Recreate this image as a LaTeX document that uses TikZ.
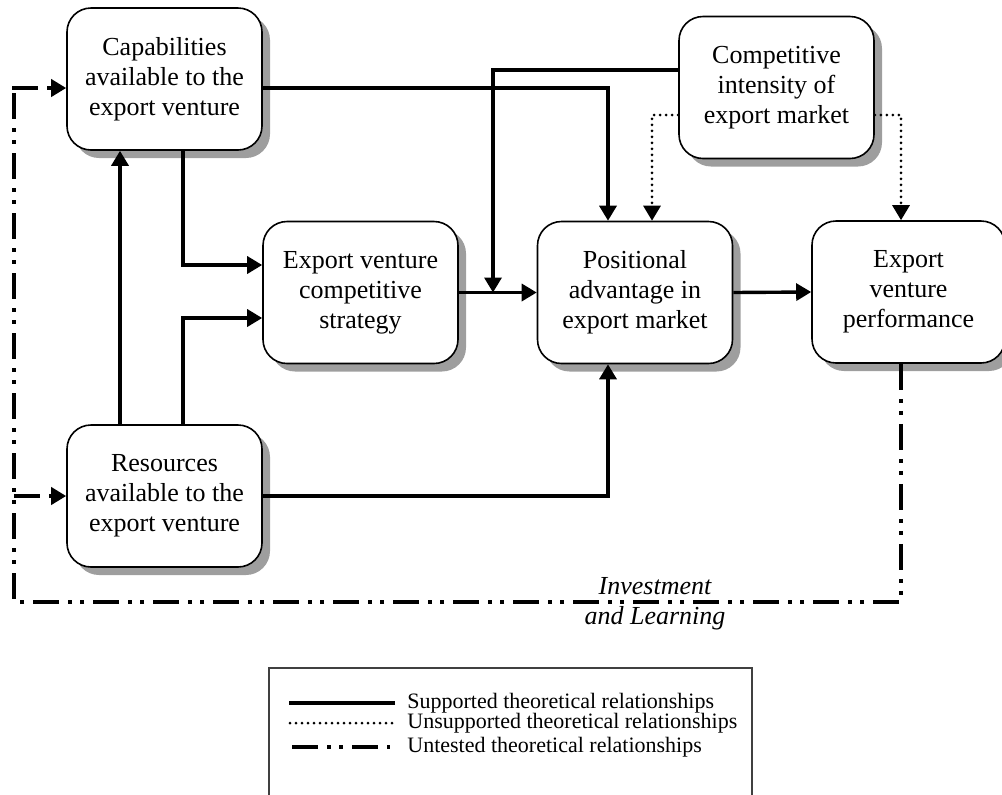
\documentclass[tikz,border=0pt]{standalone}
\usepackage{fontspec}
\setmainfont{Liberation Serif}
\usetikzlibrary{arrows.meta,shadows}
\tikzset{
  blk/.style={draw=black,fill=white,rounded corners=12pt,line width=0.8pt,
    minimum width=97.5pt,minimum height=71pt,align=center,inner sep=2pt,
    font=\fontsize{13}{15}\selectfont,
    drop shadow={shadow xshift=4pt,shadow yshift=-4pt,fill=black!38,opacity=1}},
  arr/.style={-{Triangle[length=7.5pt,width=8.5pt]}},
  supp/.style={draw=black,line width=1.7pt},
  unsupp/.style={draw=black,line width=1.5pt,line cap=round,dash pattern=on 0pt off 3pt},
  untest/.style={draw=black,line width=2pt,
    dash pattern=on 13pt off 4.5pt on 2pt off 4pt on 2pt off 4.5pt},
  lt/.style={anchor=west,inner sep=0pt,font=\fontsize{11}{13}\selectfont},
  lgd/.style={draw=black!75,line width=0.6pt},
}
\begin{document}
\begin{tikzpicture}[x=0.5pt,y=-0.5pt]
\useasboundingbox (0,0) rectangle (1002,794);
% boxes
\node[blk] (cap) at (164.5,79) {Capabilities\\available to the\\export venture};
\node[blk] (comp) at (776.5,87.5) {Competitive\\intensity of\\export market};
\node[blk] (strat) at (360.5,292.5) {Export venture\\competitive\\strategy};
\node[blk] (pos) at (635,292.5) {Positional\\advantage in\\export market};
\node[blk,minimum width=96.5pt] (perf) at (908.5,292) {Export\\venture\\performance};
\node[blk] (res) at (164.5,496) {Resources\\available to the\\export venture};
\coordinate (jn) at (493,292.5);
\coordinate (lc) at (14,602);
\coordinate (tc) at (14,88);
% supported
\draw[supp,arr] ([yshift=-4.5pt]cap.east) -| ([xshift=-13.5pt]pos.north);
\draw[supp,arr] ([yshift=8.75pt]comp.west) -| (jn);
\draw[supp,arr] (strat.east) -- (pos.west);
\draw[supp,arr] (pos.east) -- (perf.west);
\draw[supp,arr] ([xshift=9.25pt]cap.south) |- ([yshift=13.75pt]strat.west);
\draw[supp,arr] ([xshift=-22.25pt]res.north) -- ([xshift=-22.25pt]cap.south);
\draw[supp,arr] ([xshift=9.25pt]res.north) |- ([yshift=-12.75pt]strat.west);
\draw[supp,arr] (res.east) -| ([xshift=-13.5pt]pos.south);
% unsupported
\draw[unsupp,arr] ([yshift=-13.75pt]comp.west) -| ([xshift=8.5pt]pos.north);
\draw[unsupp,arr] ([yshift=-13.75pt]comp.east) -| ([xshift=-3.75pt]perf.north);
% untested feedback
\draw[untest] ([xshift=-3.75pt]perf.south) |- (lc);
\draw[untest] ([yshift=-2.5pt]tc) -- (lc);
\draw[untest,arr] ([xshift=-1pt]tc) -- (tc -| cap.west);
\draw[untest,arr] (lc |- res.west) -- (res.west);
\node[font=\itshape\fontsize{13}{15}\selectfont,align=center] (lab) at (655,604)
  {Investment\\and Learning};
% legend
\draw[lgd] (269,800) -- (269,668) -- (752,668) -- (752,800);
\node[lt] (l1) at (407,703) {Supported theoretical relationships};
\node[lt] (l2) at (407,723) {Unsupported theoretical relationships};
\node[lt] (l3) at (407,747) {Untested theoretical relationships};
\draw[supp] ([xshift=-6pt]l1.west) -- ++(-53pt,0);
\draw[unsupp] ([xshift=-7.5pt]l2.west) -- ++(-52pt,0);
\draw[untest] ([xshift=-57.5pt]l3.west) -- ++(49pt,0);
\end{tikzpicture}
\end{document}
